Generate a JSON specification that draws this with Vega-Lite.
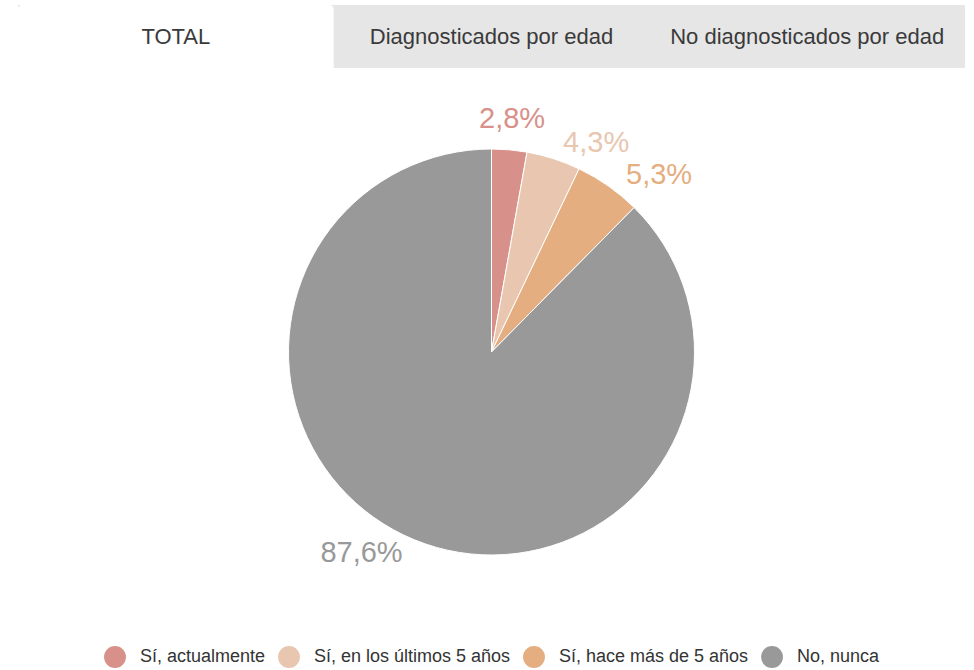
{
  "$schema": "https://vega.github.io/schema/vega-lite/v6.json",
  "padding": {"left": 18, "top": 5, "right": 9, "bottom": 0},
  "background": "white",
  "bounds": "flush",
  "spacing": 44,
  "config": {
    "view": {"stroke": null},
    "font": "Liberation Sans",
    "locale": {"number": {"decimal": ",", "thousands": ".", "grouping": [3], "currency": ["", " €"]}},
    "legend": {
      "orient": "bottom",
      "direction": "horizontal",
      "title": null,
      "symbolType": "circle",
      "symbolSize": 480,
      "symbolStrokeWidth": 0,
      "symbolOpacity": 1,
      "labelFontSize": 18,
      "labelColor": "#333333",
      "labelOffset": 14,
      "columnPadding": 12,
      "offset": 54,
      "labelLimit": 400,
      "layout": {"bottom": {"anchor": "middle"}}
    }
  },
  "vconcat": [
    {
      "width": 947,
      "height": 63,
      "view": {"fill": "#e6e6e6", "stroke": null},
      "data": {"values": [
        {"pestana": "TOTAL", "activa": true},
        {"pestana": "Diagnosticados por edad", "activa": false},
        {"pestana": "No diagnosticados por edad", "activa": false}
      ]},
      "encoding": {
        "x": {"field": "pestana", "type": "nominal", "sort": null, "axis": null,
              "scale": {"paddingInner": 0, "paddingOuter": 0}}
      },
      "layer": [
        {
          "transform": [{"filter": "datum.activa"}],
          "mark": {"type": "bar", "color": "white", "cornerRadiusTopLeft": 4, "cornerRadiusTopRight": 4}
        },
        {
          "mark": {"type": "text", "fontSize": 22, "color": "#3a3a3a"},
          "encoding": {"text": {"field": "pestana"}}
        }
      ]
    },
    {
      "width": 947,
      "height": 480,
      "data": {"values": [
        {"categoria": "Sí, actualmente", "orden": 1, "proporcion": 0.028},
        {"categoria": "Sí, en los últimos 5 años", "orden": 2, "proporcion": 0.043},
        {"categoria": "Sí, hace más de 5 años", "orden": 3, "proporcion": 0.053},
        {"categoria": "No, nunca", "orden": 4, "proporcion": 0.876}
      ]},
      "encoding": {
        "theta": {"field": "proporcion", "type": "quantitative", "stack": true},
        "order": {"field": "orden", "type": "quantitative"},
        "color": {
          "field": "categoria", "type": "nominal",
          "sort": ["Sí, actualmente", "Sí, en los últimos 5 años", "Sí, hace más de 5 años", "No, nunca"],
          "scale": {
            "domain": ["Sí, actualmente", "Sí, en los últimos 5 años", "Sí, hace más de 5 años", "No, nunca"],
            "range": ["#d8918a", "#e8c6b0", "#e4ae80", "#999999"]
          }
        }
      },
      "layer": [
        {"mark": {"type": "arc", "outerRadius": 203, "stroke": "white", "strokeWidth": 1}},
        {
          "mark": {
            "type": "text", "radius": 234, "fontSize": 29,
            "align": {"expr": "datum.orden == 4 ? 'right' : (datum.orden == 1 ? 'center' : 'left')"},
            "baseline": {"expr": "datum.orden == 4 ? 'bottom' : (datum.orden == 1 ? 'middle' : 'top')"}
          },
          "encoding": {"text": {"field": "proporcion", "type": "quantitative", "format": ".1%"}}
        }
      ]
    }
  ]
}
